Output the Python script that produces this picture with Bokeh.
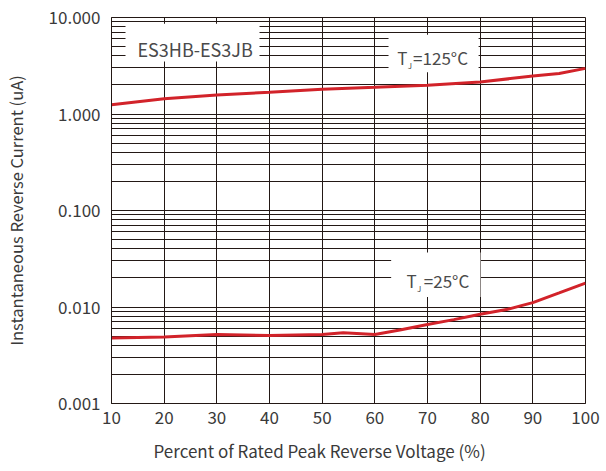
from bokeh.plotting import figure
from bokeh.models import FixedTicker, NumeralTickFormatter, BoxAnnotation, Label, Range1d, Title
from bokeh.embed import file_html
from bokeh.resources import INLINE

# ---- data ----
pct_125 = [10, 20, 30, 40, 50, 60, 70, 80, 90, 95, 100]
ir_125 = [1.25, 1.44, 1.57, 1.68, 1.80, 1.89, 1.99, 2.15, 2.47, 2.63, 2.97]

pct_25 = [10, 20, 30, 40, 50, 54, 60, 65, 70, 75, 80, 85, 88, 90, 95, 100]
ir_25 = [0.00478, 0.00490, 0.00518, 0.00508, 0.00520, 0.00540, 0.00520, 0.00580,
         0.00660, 0.00740, 0.00840, 0.00940, 0.01040, 0.01110, 0.01400, 0.01770]

x_ticks = [10, 20, 30, 40, 50, 60, 70, 80, 90, 100]
y_ticks = [0.001, 0.01, 0.1, 1, 10]
y_minor = [m * d for d in [0.001, 0.01, 0.1, 1] for m in range(2, 10)]

x_title = "Percent of Rated Peak Reverse Voltage (%)"
y_title = "Instantaneous Reverse Current (uA)"
part_label = "ES3HB-ES3JB"

FONT = "Noto Sans CJK SC"
GRID = "#231815"
RED = "#d2232a"
TXT = "#3a3a3a"

p = figure(width=606, height=471, x_range=Range1d(10, 100), y_range=Range1d(0.001, 10),
           y_axis_type="log", output_backend="svg", toolbar_location=None,
           min_border_left=111, min_border_right=21, min_border_top=17, min_border_bottom=67)
p.background_fill_color = "white"
p.border_fill_color = "white"
p.outline_line_color = GRID
p.outline_line_width = 1

xt = FixedTicker(ticks=x_ticks)
yt = FixedTicker(ticks=y_ticks, minor_ticks=y_minor)
p.xaxis.ticker = xt
p.yaxis.ticker = yt
p.xgrid.ticker = xt
p.ygrid.ticker = yt
p.yaxis.formatter = NumeralTickFormatter(format="0.000")

p.xgrid.grid_line_color = GRID
p.xgrid.grid_line_width = 1
p.ygrid.grid_line_color = GRID
p.ygrid.grid_line_width = 1
p.ygrid.minor_grid_line_color = GRID
p.ygrid.minor_grid_line_width = 1

for ax in (p.xaxis, p.yaxis):
    ax.axis_line_color = GRID
    ax.major_tick_line_color = None
    ax.minor_tick_line_color = None
    ax.major_label_text_font = FONT
    ax.major_label_text_font_size = "17px"
    ax.major_label_text_color = TXT
p.xaxis.major_label_standoff = 1
p.yaxis.major_label_standoff = 5

p.yaxis.axis_label = y_title
p.yaxis.axis_label_text_font = FONT
p.yaxis.axis_label_text_font_size = "16.5px"
p.yaxis.axis_label_text_font_style = "normal"
p.yaxis.axis_label_text_color = TXT
p.yaxis.axis_label_standoff = 18

p.line(pct_125, ir_125, line_color=RED, line_width=3)
p.line(pct_25, ir_25, line_color=RED, line_width=3)

# x title placed off-centre like the reference
p.add_layout(Title(text=x_title, align="left", offset=42, standoff=18,
                   text_font=FONT, text_font_size="17px", text_font_style="normal",
                   text_color=TXT), "below")

# label boxes
p.add_layout(BoxAnnotation(left=12.66, right=38.1, top=8.61, bottom=3.51,
                           fill_color="white", fill_alpha=1, line_color=None))
p.add_layout(BoxAnnotation(left=62.6, right=79.7, top=6.64, bottom=2.70,
                           fill_color="white", fill_alpha=1, line_color=None))
p.add_layout(BoxAnnotation(left=63.1, right=80.06, top=0.0368, bottom=0.01268,
                           fill_color="white", fill_alpha=1, line_color=None))

def lab(x, y, t, size):
    p.add_layout(Label(x=x, y=y, text=t, text_font=FONT, text_font_size=size,
                       text_color="#4a4a4a", text_baseline="alphabetic", text_align="left"))

lab(14.94, 4.73, part_label, "18px")
lab(64.24, 3.853, "T", "17px")
lab(66.24, 3.19, "J", "8px")
lab(67.27, 3.853, "=125°C", "17px")
lab(66.0, 0.01888, "T", "17px")
lab(68.03, 0.0156, "J", "8px")
lab(69.3, 0.01888, "=25°C", "17px")

open("out.html", "w").write(file_html(p, INLINE))
